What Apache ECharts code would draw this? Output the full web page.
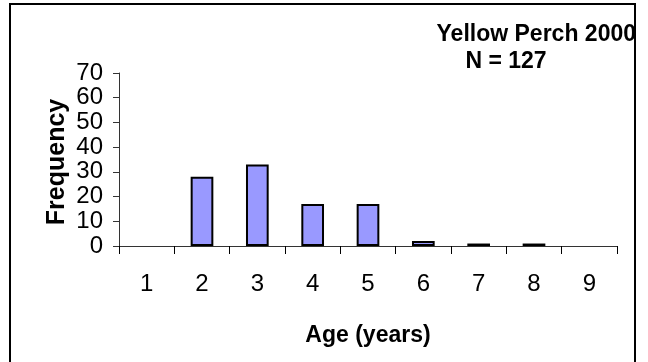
<!DOCTYPE html>
<html>
<head>
<meta charset="utf-8">
<script src="https://cdn.jsdelivr.net/npm/echarts@6/dist/echarts.min.js"></script>
<style>html,body{margin:0;padding:0;background:#fff;}#c{width:648px;height:362px;}</style>
</head>
<body>
<div id="c"></div>
<script>
const ages = ['1','2','3','4','5','6','7','8','9'];
const frequency = [0, 28, 33, 17, 17, 2, 1, 1, 0];
const yTicks = {min: 0, max: 70, interval: 10};
const titleText = 'Yellow Perch 2000';
const subText = 'N = 127';
const xName = 'Age (years)';
const yName = 'Frequency';

const FONT = "'Liberation Sans Narrow', 'Liberation Sans', Arial, sans-serif";
const chart = echarts.init(document.getElementById('c'), null, {renderer: 'canvas'});
chart.setOption({
  animation: false,
  backgroundColor: '#fff',
  graphic: [
    {type: 'rect', shape: {x: 10, y: 4, width: 625, height: 380}, style: {fill: 'none', stroke: '#000', lineWidth: 2}, silent: true},
    {type: 'text', x: 636, y: 35, style: {text: titleText, font: 'bold 23px ' + FONT, fill: '#000', align: 'right', verticalAlign: 'middle'}},
    {type: 'text', x: 506, y: 62, style: {text: subText, font: 'bold 23px ' + FONT, fill: '#000', align: 'center', verticalAlign: 'middle'}},
    {type: 'text', x: 57, y: 162, rotation: Math.PI / 2, style: {text: yName, font: 'bold 25px ' + FONT, fill: '#000', align: 'center', verticalAlign: 'middle'}}
  ],
  grid: {left: 119, right: 31, top: 73, bottom: 116},
  xAxis: {
    type: 'category', data: ages,
    name: xName, nameLocation: 'middle', nameGap: 78,
    nameTextStyle: {fontFamily: FONT, fontWeight: 'bold', fontSize: 23, color: '#000'},
    axisLine: {lineStyle: {color: '#333', width: 1}},
    axisTick: {show: true, length: 8, lineStyle: {color: '#000'}, alignWithLabel: false},
    axisLabel: {fontFamily: FONT, fontSize: 24, color: '#000', margin: 26}
  },
  yAxis: {
    type: 'value', min: yTicks.min, max: yTicks.max, interval: yTicks.interval,
    axisLine: {show: true, lineStyle: {color: '#333', width: 1}},
    axisTick: {show: true, length: 6, lineStyle: {color: '#333'}},
    axisLabel: {fontFamily: FONT, fontSize: 24, color: '#000', margin: 16},
    splitLine: {show: false}
  },
  series: [{
    type: 'bar', data: frequency.map(v => v === 0 ? '-' : v), barWidth: '41%',
    itemStyle: {color: '#9999FF', borderColor: '#000', borderWidth: 2}
  }]
});
</script>
</body>
</html>
